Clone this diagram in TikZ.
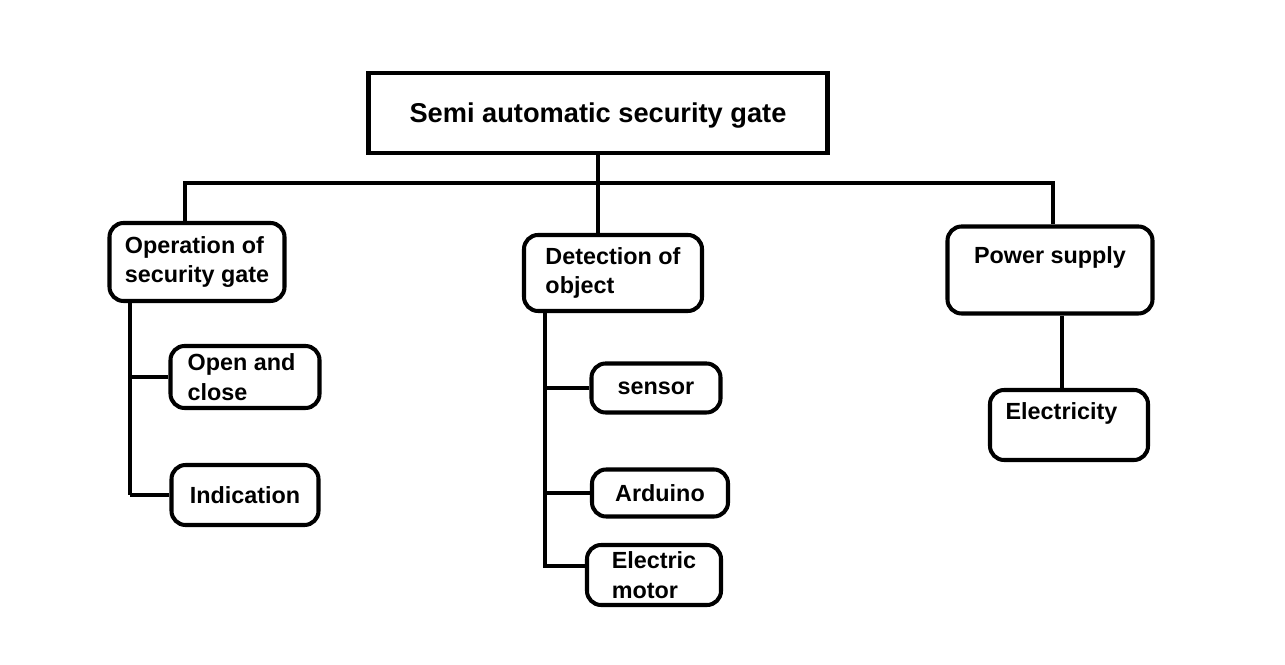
\documentclass[tikz,border=0pt]{standalone}
\usepackage{fontspec}
\setmainfont{Liberation Sans}
\usetikzlibrary{positioning}

\begin{document}
\begin{tikzpicture}[x=0.02cm, y=-0.02cm, line width=2.3pt]

% Styles
\tikzstyle{box} =
	[draw, rounded corners=8pt, inner sep=0pt, align=left,
	 font=\fontsize{13.3}{17}\selectfont\bfseries]
\tikzstyle{link} =
	[line width=2.3pt]

\useasboundingbox (0,0) rectangle (1285,665);

% Modules

\node (Gate) at (598,113) [box, rounded corners=0pt, minimum width=459*0.02cm,
	minimum height=80*0.02cm, text height=14pt, font=\fontsize{15.5}{16}\selectfont\bfseries]
	{Semi automatic security gate};

\node (Operation) at (197,262) [box, minimum width=175*0.02cm, minimum height=78*0.02cm]
	{Operation of\\security gate};
\node (OpenClose) at (245,377) [box, minimum width=149*0.02cm, minimum height=62*0.02cm]
	{Open and\\close\hspace*{1.1cm}};
\node (Indication) at (245,495) [box, minimum width=147*0.02cm, minimum height=60*0.02cm]
	{Indication};

\node (Detection) at (613,273) [box, minimum width=178*0.02cm, minimum height=76*0.02cm]
	{Detection of\\object\hspace*{1.3cm}};
\node (Sensor) at (656,388) [box, minimum width=129*0.02cm, minimum height=49*0.02cm]
	{sensor};
\node (Arduino) at (660,493) [box, minimum width=136*0.02cm, minimum height=47*0.02cm]
	{Arduino};
\node (Motor) at (654,575) [box, minimum width=134*0.02cm, minimum height=60*0.02cm]
	{Electric\\motor\hspace*{0.2cm}};

\node (Power) at (1050,270) [box, minimum width=205*0.02cm, minimum height=87*0.02cm,
	text depth=30*0.02cm]
	{Power supply};
\node (Electricity) at (1069,425) [box, minimum width=158*0.02cm, minimum height=70*0.02cm,
	text depth=28*0.02cm]
	{Electricity\hspace*{0.3cm}};

% Edges

\coordinate (Bus) at (598,183);
\coordinate (OpTrunk) at (130,495);
\coordinate (DetTrunk) at (545,568);
\coordinate (MotorTap) at (545,566);

\draw[link] (Gate.south -| Bus) -- (Detection.north -| Bus);
\draw[link] (Operation.north -| 185,0) |- (Bus) -| (Power.north -| 1053,0);

\draw[link] (Operation.south -| OpTrunk) -- (OpTrunk);
\draw[link] (OpenClose.west -| OpTrunk) -- (OpenClose.west);
\draw[link] (Indication.west -| OpTrunk) -- (Indication.west);

\draw[link] (Detection.south -| DetTrunk) -- (DetTrunk);
\draw[link] (Sensor.west -| DetTrunk) -- (Sensor.west);
\draw[link] (Arduino.west -| DetTrunk) -- (Arduino.west);
\draw[link] (MotorTap) -- (MotorTap -| Motor.west);

\draw[link] (Power.south -| 1062,0) -- (Electricity.north -| 1062,0);

\end{tikzpicture}
\end{document}
